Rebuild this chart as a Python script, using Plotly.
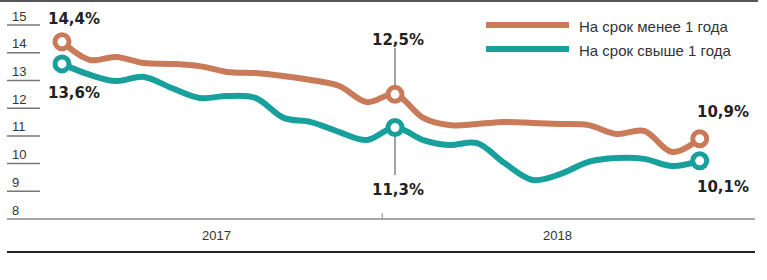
import pandas as pd
import plotly.graph_objects as go

# ---- data ----
series_names = ["На срок менее 1 года", "На срок свыше 1 года"]
months = pd.date_range("2017-01-01", periods=24, freq="MS") + pd.Timedelta(days=14)
short_term = [14.4, 13.74, 13.85, 13.63, 13.60, 13.52, 13.31, 13.27, 13.16, 13.02, 12.80, 12.22,
              12.5, 11.65, 11.39, 11.43, 11.50, 11.47, 11.43, 11.39, 11.07, 11.18, 10.42, 10.9]
long_term = [13.6, 13.20, 12.98, 13.13, 12.73, 12.37, 12.44, 12.37, 11.65, 11.50, 11.14, 10.85,
             11.3, 10.85, 10.67, 10.74, 10.02, 9.41, 9.62, 10.06, 10.20, 10.17, 9.91, 10.1]
y_ticks = [8, 9, 10, 11, 12, 13, 14, 15]
year_labels = ["2017", "2018"]
year_mid = [pd.Timestamp("2017-07-03"), pd.Timestamp("2018-07-12")]
highlight_idx = [0, 12, 23]

colors = ["#C97A58", "#17A09C"]

W, H = 767, 280
px_per_day = 333 / 365.0
x0_date = months[0] - pd.Timedelta(days=62 / px_per_day)
x1_date = months[0] + pd.Timedelta(days=(W - 62) / px_per_day)
px_per_unit = 27.7
y_top = 8 + 219 / px_per_unit
y_bot = 8 - (H - 219) / px_per_unit

fig = go.Figure()
for name, vals, col in zip(series_names, [short_term, long_term], colors):
    fig.add_trace(go.Scatter(
        x=months, y=vals, name=name, mode="lines",
        line=dict(color=col, width=6, shape="spline", smoothing=1.0),
        hoverinfo="skip", showlegend=False))
    fig.add_trace(go.Scatter(
        x=[months[i] for i in highlight_idx], y=[vals[i] for i in highlight_idx],
        mode="markers",
        marker=dict(size=14, color="white", line=dict(color=col, width=5)),
        hoverinfo="skip", showlegend=False))

shapes = []
annotations = []
tick_font = dict(family="Liberation Sans, Arial, sans-serif", size=13, color="#333")

# y tick marks and labels
for t in y_ticks:
    if t != 8:
        shapes.append(dict(type="line", xref="paper", yref="y", x0=7 / W, x1=40 / W, y0=t, y1=t,
                           line=dict(color="#777", width=1.5)))
    annotations.append(dict(xref="paper", yref="y", x=10 / W, y=t, text=str(t), showarrow=False,
                            xanchor="left", yanchor="middle", yshift=9, font=tick_font))

# baseline, bottom rule, top rule
shapes.append(dict(type="line", xref="paper", yref="y", x0=7 / W, x1=755 / W, y0=8, y1=8,
                   line=dict(color="#888", width=1.5)))
shapes.append(dict(type="line", xref="paper", yref="paper", x0=7 / W, x1=755 / W,
                   y0=1 - 252 / H, y1=1 - 252 / H, line=dict(color="#222", width=2)))
shapes.append(dict(type="line", xref="paper", yref="paper", x0=0, x1=758 / W,
                   y0=1 - 1 / H, y1=1 - 1 / H, line=dict(color="#555", width=2)))
# year boundary tick
yb = pd.Timestamp("2018-01-01")
shapes.append(dict(type="line", xref="x", yref="y", x0=yb, x1=yb, y0=8, y1=8 + 6 / px_per_unit,
                   line=dict(color="#888", width=1)))
for lab, xm in zip(year_labels, year_mid):
    annotations.append(dict(xref="x", yref="paper", x=xm, y=1 - 235 / H, text=lab, showarrow=False,
                            xanchor="center", yanchor="middle", font=tick_font))

# callout lines at Jan 2018
jm = months[12]
shapes.append(dict(type="line", xref="x", yref="y", x0=jm, x1=jm, y0=short_term[12] + 0.3,
                   y1=8 + (219 - 48) / px_per_unit, line=dict(color="#444", width=1), layer="below"))
shapes.append(dict(type="line", xref="x", yref="y", x0=jm, x1=jm, y0=long_term[12] - 0.3,
                   y1=8 + (219 - 175) / px_per_unit, line=dict(color="#444", width=1), layer="below"))

# value labels
lab_font = dict(family="DejaVu Sans, Verdana, sans-serif", size=15, color="#222")
def fmt(v):
    return ("%.1f" % v).replace(".", ",") + "%"
offsets = {0: (12, 23, -29), 12: (3, 54, -62), 23: (23, 27, -26)}
for i in highlight_idx:
    dx, up, dn = offsets[i]
    annotations.append(dict(xref="x", yref="y", x=months[i], y=short_term[i], text="<b>%s</b>" % fmt(short_term[i]),
                            showarrow=False, xshift=dx, yshift=up, font=lab_font))
    annotations.append(dict(xref="x", yref="y", x=months[i], y=long_term[i], text="<b>%s</b>" % fmt(long_term[i]),
                            showarrow=False, xshift=dx, yshift=dn, font=lab_font))

# legend (manual)
leg_font = dict(family="Liberation Sans, Arial, sans-serif", size=15, color="#333")
for k, (name, col) in enumerate(zip(series_names, colors)):
    yy = 1 - (25 + 24 * k) / H
    shapes.append(dict(type="line", xref="paper", yref="paper", x0=486 / W, x1=569 / W, y0=yy, y1=yy,
                       line=dict(color=col, width=6)))
    annotations.append(dict(xref="paper", yref="paper", x=577 / W, y=yy, text=name, showarrow=False,
                            xanchor="left", yanchor="middle", yshift=-1, font=leg_font))

fig.update_layout(
    width=W, height=H, margin=dict(l=0, r=0, t=0, b=0),
    paper_bgcolor="white", plot_bgcolor="white",
    xaxis=dict(range=[x0_date, x1_date], visible=False, fixedrange=True),
    yaxis=dict(range=[y_bot, y_top], visible=False, fixedrange=True),
    shapes=shapes, annotations=annotations, showlegend=False,
)
fig.write_html("out.html", config={"displayModeBar": False},
               post_script="document.body.style.margin='0px';document.body.style.overflow='hidden';")
